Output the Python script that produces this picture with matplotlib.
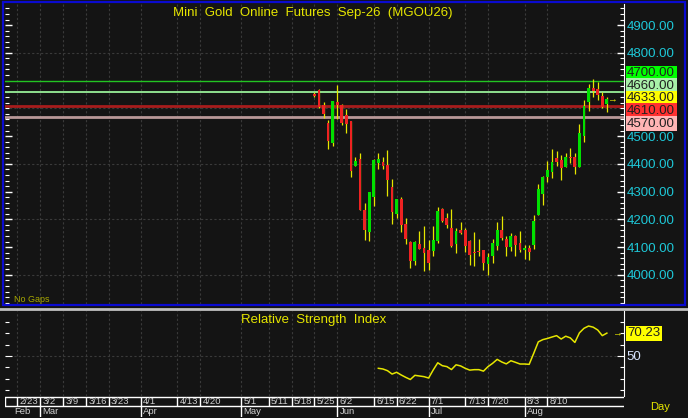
import matplotlib as mpl
import matplotlib.pyplot as plt
from matplotlib.patches import Rectangle
from matplotlib.lines import Line2D

mpl.rcParams["font.family"] = ["Liberation Sans", "DejaVu Sans"]

# ---- data ----
title = "Mini  Gold  Online  Futures  Sep-26  (MGOU26)"
first_slot = 65          # trading-day slot of the first candle (2/23 = slot 0)
opens = [4652, 4666, 4611, 4548, 4474, 4622, 4613, 4577, 4553, 4394,
         4416, 4235, 4156, 4281, 4404, 4406, 4397, 4315, 4221, 4274,
         4185, 4120, 4049, 4113, 4098, 4091, 4085, 4121, 4238, 4206,
         4170, 4113, 4161, 4163, 4121, 4084, 4086, 4088, 4040, 4067,
         4105, 4163, 4130, 4101, 4139, 4115, 4088, 4097, 4109, 4215,
         4293, 4353, 4370, 4422, 4413, 4389, 4426, 4423, 4387, 4500,
         4623, 4675, 4669, 4644, 4615]
highs = [4660, 4668, 4623, 4558, 4625, 4683, 4615, 4596, 4553, 4426,
         4440, 4260, 4300, 4416, 4440, 4426, 4449, 4344, 4274, 4279,
         4206, 4123, 4122, 4158, 4175, 4127, 4175, 4245, 4242, 4223,
         4238, 4169, 4192, 4169, 4127, 4153, 4131, 4091, 4079, 4130,
         4190, 4211, 4139, 4151, 4145, 4157, 4109, 4109, 4214, 4326,
         4356, 4409, 4455, 4446, 4433, 4440, 4458, 4440, 4542, 4629,
         4687, 4705, 4695, 4659, 4642]
lows = [4640, 4603, 4565, 4454, 4466, 4560, 4541, 4510, 4351, 4394,
        4235, 4125, 4122, 4247, 4380, 4380, 4283, 4185, 4204, 4153,
        4110, 4023, 4036, 4094, 4013, 4016, 4069, 4115, 4190, 4169,
        4101, 4077, 4146, 4081, 4036, 4031, 4067, 4016, 4001, 4043,
        4088, 4127, 4067, 4085, 4067, 4081, 4057, 4055, 4093, 4215,
        4253, 4334, 4348, 4392, 4341, 4387, 4404, 4365, 4387, 4478,
        4589, 4642, 4630, 4601, 4587]
closes = [4646, 4604, 4579, 4481, 4625, 4612, 4548, 4543, 4373, 4409,
          4235, 4161, 4298, 4413, 4416, 4394, 4341, 4228, 4274, 4180,
          4130, 4049, 4117, 4094, 4079, 4043, 4127, 4231, 4193, 4181,
          4103, 4158, 4151, 4105, 4073, 4080, 4081, 4043, 4065, 4115,
          4161, 4133, 4101, 4141, 4109, 4091, 4095, 4084, 4193, 4311,
          4353, 4377, 4406, 4406, 4384, 4426, 4421, 4387, 4512, 4608,
          4673, 4662, 4649, 4604, 4633]

rsi_first_slot = 79
rsi = [39.1, 38.5, 37.0, 34.0, 35.6, 33.2, 31.1, 29.2, 32.9, 32.3,
       31.7, 30.5, 37.6, 44.0, 41.4, 40.6, 38.0, 42.2, 41.2, 39.1,
       37.5, 37.9, 37.9, 36.6, 40.6, 43.5, 47.0, 44.7, 43.0, 45.8,
       44.4, 42.9, 42.9, 42.6, 52.4, 62.5, 64.5, 65.5, 66.8, 68.0,
       65.0, 67.5, 66.0, 62.0, 70.5, 74.5, 76.5, 75.5, 73.0, 68.0, 70.23]

tick_slots = [0, 5, 10, 15, 20, 27, 35, 40, 49, 55, 60, 65, 70, 78, 83,
              90, 98, 103, 111, 116]
tick_labels = ["2/23", "3/2", "3/9", "3/16", "3/23", "4/1", "4/13", "4/20",
               "5/1", "5/11", "5/18", "5/25", "6/2", "6/15", "6/22", "7/1",
               "7/13", "7/20", "8/3", "8/10"]
month_slots = [-2.7, 5, 27, 49, 70, 90, 111]
month_labels = ["Feb", "Mar", "Apr", "May", "Jun", "Jul", "Aug"]

levels = [4700, 4660, 4633, 4610, 4570]
price_ticks = [4000, 4100, 4200, 4300, 4400, 4500, 4800, 4900]

# ---- styles ----
bg = "#141414"
grid_c = "#3a3a3a"
yellow = "#e6e600"
cyan = "#1ec8d8"
level_line_c = ["#22c422", "#8fe08f", None, "#a81c1c", "#b89898"]
level_line_w = [1.0, 1.4, 0, 2.0, 2.0]
level_box_c = ["#00ff00", "#a8f0a8", "#ffff00", "#ff3030", "#ffb4b4"]

W, H = 688, 418
XL = (-2.69, 132.75)


def fx(px):
    return px / W


def fy(py):
    return 1 - py / H


fig = plt.figure(figsize=(W / 100, H / 100), dpi=100, facecolor=bg)

# main price pane
ax = fig.add_axes([fx(5), fy(304), fx(619), 300 / H], facecolor=bg)
ax.set_xlim(*XL)
ax.set_ylim(3895, 4976)
for s in ["top", "left", "bottom"]:
    ax.spines[s].set_visible(False)
ax.spines["right"].set_color("white")
ax.set_xticks([])
ax.yaxis.set_ticks_position("both")
ax.set_yticks(price_ticks)
ax.set_yticklabels(["%.2f" % v for v in price_ticks])
ax.yaxis.set_minor_locator(mpl.ticker.MultipleLocator(20))
ax.tick_params(axis="y", which="both", direction="in", colors="white",
               labelleft=False, labelright=True, labelcolor=cyan,
               labelsize=9.5, pad=2)
ax.tick_params(axis="y", which="major", length=5, width=1)
ax.tick_params(axis="y", which="minor", length=3, width=0.8)

for s in tick_slots:
    ax.axvline(s, color=grid_c, lw=0.8, ls=(0, (2, 2)), zorder=0)
for p in [4000, 4200, 4400, 4600, 4800]:
    ax.axhline(p, color=grid_c, lw=0.8, ls=(0, (2, 2)), zorder=0)

for lv, c, w in zip(levels, level_line_c, level_line_w):
    if c:
        ax.axhline(lv, color=c, lw=w, zorder=2)

slots = [first_slot + i for i in range(len(opens))]
ax.vlines(slots, lows, highs, color=yellow, lw=0.9, zorder=3)
bottoms = [min(o, c) for o, c in zip(opens, closes)]
heights = [max(abs(c - o), 3) for o, c in zip(opens, closes)]
cols = ["#00e000" if c >= o else "#ee2222" for o, c in zip(opens, closes)]
ax.bar(slots, heights, bottom=bottoms, width=0.62, color=cols, zorder=4)

ax.text(130.2, closes[-1], "→", color=yellow, fontsize=7, ha="center",
        va="center", zorder=5)

# stacked level labels on the price scale
for i, (lv, bc) in enumerate(zip(levels, level_box_c)):
    ypos = 4636 + (2 - i) * 45.5
    ax.text(1.005, ypos, "%.2f" % lv, transform=ax.get_yaxis_transform(),
            color="#202020", fontsize=9.5, ha="left", va="center",
            bbox=dict(boxstyle="square,pad=0.12", fc=bc, ec="none"),
            clip_on=False, zorder=6)

fig.text(fx(313), fy(13), title, color=yellow, fontsize=9.5,
         ha="center", va="center")
fig.text(fx(14), fy(300), "No Gaps", color="#a8a800", fontsize=6.5,
         ha="left", va="center")

# RSI pane
ar = fig.add_axes([fx(5), fy(396), fx(619), 85 / H], facecolor=bg)
ar.set_xlim(*XL)
ar.set_ylim(14.6, 89.8)
for s in ["top", "left", "bottom"]:
    ar.spines[s].set_visible(False)
ar.spines["right"].set_color("white")
ar.set_xticks([])
ar.yaxis.set_ticks_position("both")
ar.set_yticks([50])
ar.set_yticklabels(["50"])
ar.yaxis.set_minor_locator(mpl.ticker.MultipleLocator(10))
ar.tick_params(axis="y", which="both", direction="in", colors="white",
               labelleft=False, labelright=True, labelcolor="#d8e4ff",
               labelsize=9.5, pad=2)
ar.tick_params(axis="y", which="major", length=5)
ar.tick_params(axis="y", which="minor", length=3, width=0.8)
for s in tick_slots:
    ar.axvline(s, color=grid_c, lw=0.8, ls=(0, (2, 2)), zorder=0)
ar.axhline(50, color=grid_c, lw=0.8, ls=(0, (2, 2)), zorder=0)
rsi_x = [rsi_first_slot + i for i in range(len(rsi))]
ar.plot(rsi_x, rsi, color=yellow, lw=1.1, zorder=3)
ar.text(131.3, rsi[-1], "→", color=yellow, fontsize=7, ha="center",
        va="center")
ar.text(1.005, rsi[-1], "%.2f" % rsi[-1], transform=ar.get_yaxis_transform(),
        color="#202020", fontsize=9.5, ha="left", va="center",
        bbox=dict(boxstyle="square,pad=0.12", fc="#ffff00", ec="none"),
        clip_on=False)
fig.text(fx(314), fy(320), "Relative  Strength  Index", color=yellow,
         fontsize=9.5, ha="center", va="center")

# date / month rows
ad = fig.add_axes([fx(5), fy(417), fx(619), 21 / H], facecolor=bg)
ad.set_xlim(*XL)
ad.set_ylim(21, 0)
ad.axis("off")
ad.axhline(0.5, color="white", lw=1)
ad.axhline(9.5, color="white", lw=1)
ad.vlines([XL[0] + 0.1] + tick_slots, 0.5, 9.5, color="white", lw=1)
ad.vlines(month_slots[1:], 9.5, 21, color="white", lw=1)
for s, t in zip(tick_slots, tick_labels):
    ad.text(s + 0.5, 5.4, t, color="#d0d0d0", fontsize=6.8, ha="left",
            va="center")
for i, (s, t) in enumerate(zip(month_slots, month_labels)):
    off = 2.0 if i == 0 else 0.5
    ad.text(s + off, 15.5, t, color="#d0d0d0", fontsize=6.8, ha="left",
            va="center")
fig.text(fx(660), fy(407), "Day", color=yellow, fontsize=8, ha="center",
         va="center")

# pane frames
fig.add_artist(Rectangle((fx(3), fy(305)), fx(682), 303 / H,
                         transform=fig.transFigure, fill=False,
                         ec="#0a0ad0", lw=1.6))
fig.add_artist(Line2D([0, 1], [fy(309), fy(309)], transform=fig.transFigure,
                      color="#c0c0c0", lw=2))

fig.savefig("out.png", dpi=100, facecolor=bg)
